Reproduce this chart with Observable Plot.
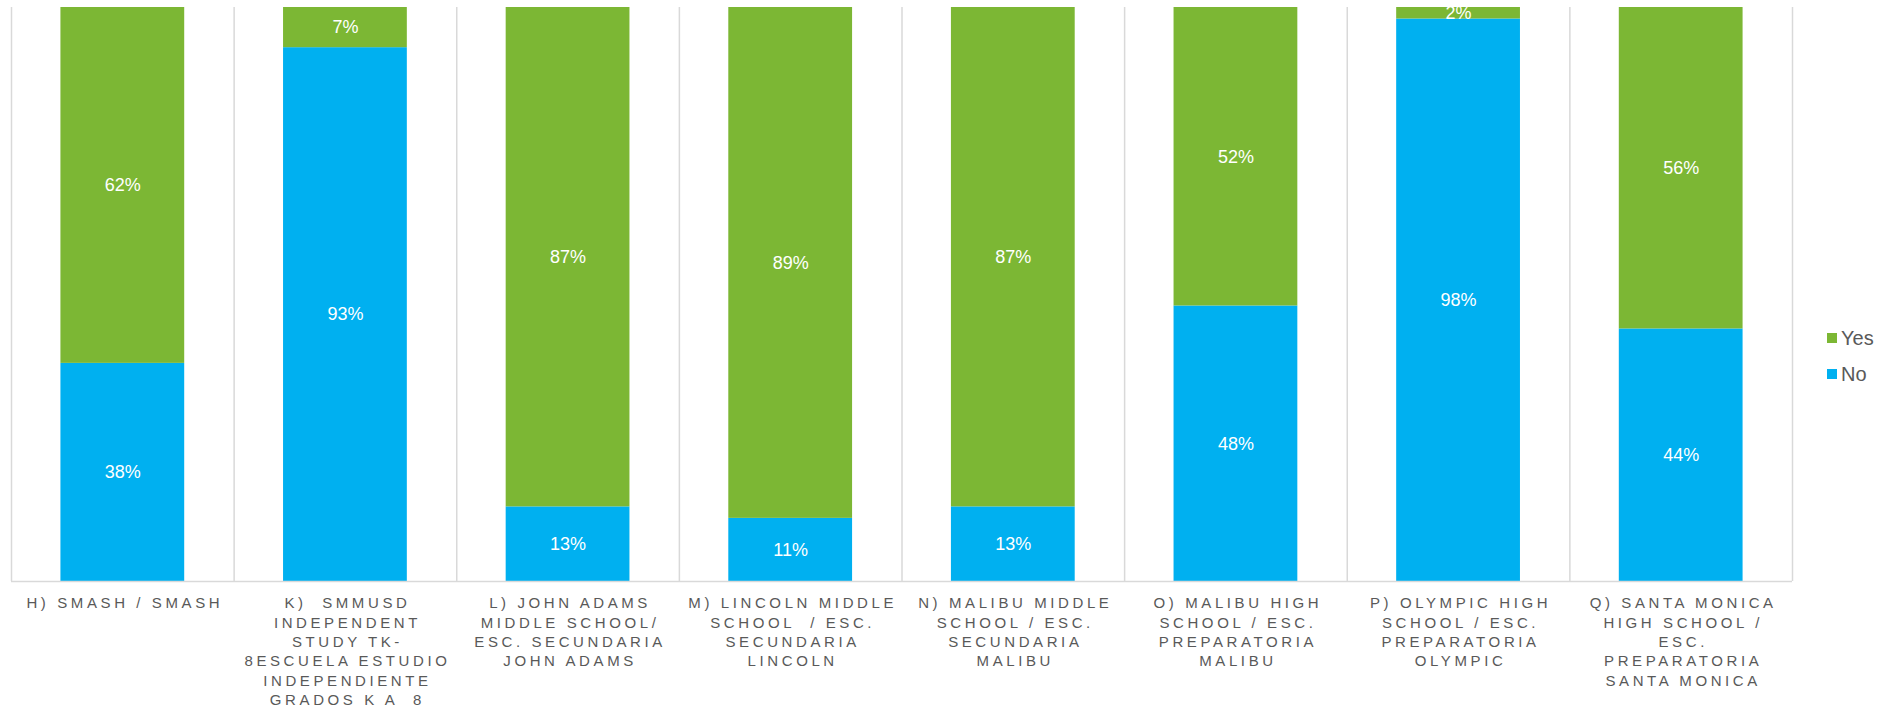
<!DOCTYPE html>
<html>
<head>
<meta charset="utf-8">
<script src="https://cdn.jsdelivr.net/npm/d3@7"></script>
<script src="https://cdn.jsdelivr.net/npm/@observablehq/plot@0.6"></script>
<style>
  html, body { margin: 0; padding: 0; background: #fff; }
  #wrap { position: relative; width: 1884px; height: 714px; font-family: "Liberation Sans", Arial, sans-serif; }
  g[aria-label="x-axis tick label"] text { letter-spacing: 3.6px; white-space: pre; }
  #legend { position: absolute; left: 1827px; top: 320px; font-size: 20px; color: #595959; line-height: 36px; }
  #legend .it { display: flex; align-items: center; }
  #legend .sw { width: 10px; height: 10px; margin-right: 4px; display: inline-block; }
</style>
</head>
<body>
<div id="wrap"><div id="legend"></div></div>
<script>
const categories = ["H", "K", "L", "M", "N", "O", "P", "Q"];
const categoryLabels = [
  ["H) SMASH / SMASH"],
  ["K)  SMMUSD", "INDEPENDENT", "STUDY TK-", "8ESCUELA ESTUDIO", "INDEPENDIENTE", "GRADOS K A  8"],
  ["L) JOHN ADAMS", "MIDDLE SCHOOL/", "ESC. SECUNDARIA", "JOHN ADAMS"],
  ["M) LINCOLN MIDDLE", "SCHOOL  / ESC.", "SECUNDARIA", "LINCOLN"],
  ["N) MALIBU MIDDLE", "SCHOOL / ESC.", "SECUNDARIA", "MALIBU"],
  ["O) MALIBU HIGH", "SCHOOL / ESC.", "PREPARATORIA", "MALIBU"],
  ["P) OLYMPIC HIGH", "SCHOOL / ESC.", "PREPARATORIA", "OLYMPIC"],
  ["Q) SANTA MONICA", "HIGH SCHOOL /", "ESC.", "PREPARATORIA", "SANTA MONICA"]
];
const series = ["No", "Yes"];
const noValues = [38, 93, 13, 11, 13, 48, 98, 44];
const yesValues = [62, 7, 87, 89, 87, 52, 2, 56];
const colors = ["#00B0F0", "#7CB734"];

const data = [];
categories.forEach((c, i) => {
  data.push({cat: c, answer: "No", value: noValues[i]});
  data.push({cat: c, answer: "Yes", value: yesValues[i]});
});

const W = 1884, H = 714, mL = 11, mR = 92, mT = 7, mB = 133;
const bw = (W - mL - mR) / categories.length;
const inset = bw * 0.222;
const labelMap = new Map(categories.map((c, i) => [c, categoryLabels[i].join("\n")]));

const chart = Plot.plot({
  width: W, height: H,
  marginLeft: mL, marginRight: mR, marginTop: mT, marginBottom: mB,
  style: {fontFamily: "'Liberation Sans', Arial, sans-serif", background: "transparent"},
  x: {domain: categories, padding: 0, round: false, axis: null, label: null},
  y: {domain: [0, 100], axis: null, label: null},
  color: {domain: series, range: colors},
  marks: [
    Plot.ruleX(categories, {x: d => d, dx: -bw / 2, y1: 0, y2: 100, stroke: "#d9d9d9", strokeWidth: 1.5}),
    Plot.ruleX([categories[categories.length - 1]], {x: d => d, dx: bw / 2, y1: 0, y2: 100, stroke: "#d9d9d9", strokeWidth: 1.5}),
    Plot.barY(data, Plot.stackY({x: "cat", y: "value", z: "answer", fill: "answer", insetLeft: inset, insetRight: inset})),
    Plot.ruleY([0], {stroke: "#d9d9d9", strokeWidth: 1.5}),
    Plot.text(data, Plot.stackY({x: "cat", y: "value", z: "answer", text: d => d.value + "%", fill: "white", fontSize: 18})),
    Plot.axisX({tickSize: 0, tickPadding: 13, dx: 2, fontSize: 15, lineHeight: 1.29, fill: "#595959", label: null, tickFormat: d => labelMap.get(d)})
  ]
});
document.getElementById("wrap").prepend(chart);

const legend = document.getElementById("legend");
["Yes", "No"].forEach(s => {
  const it = document.createElement("div");
  it.className = "it";
  const sw = document.createElement("span");
  sw.className = "sw";
  sw.style.background = colors[series.indexOf(s)];
  it.appendChild(sw);
  it.appendChild(document.createTextNode(s));
  legend.appendChild(it);
});
</script>
</body>
</html>
